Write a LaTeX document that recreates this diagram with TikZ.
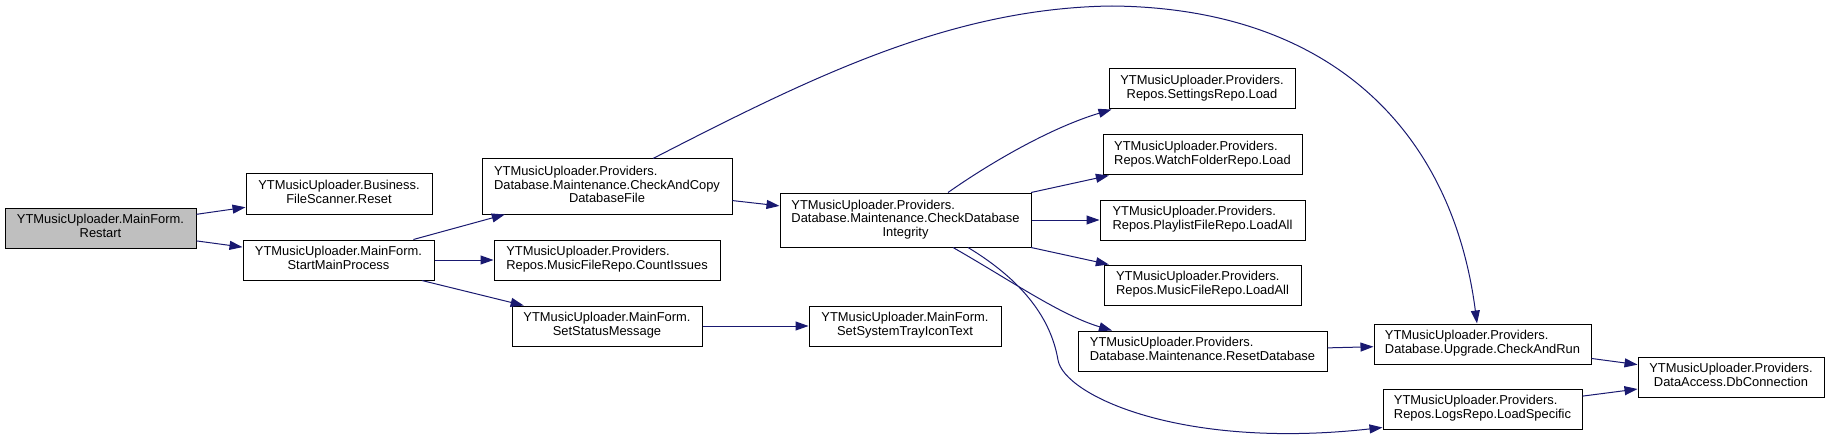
\documentclass[tikz,border=0pt]{standalone}
\usepackage{fontspec}
\setmainfont{Liberation Sans}
\usetikzlibrary{arrows.meta,calc}
\definecolor{edgec}{HTML}{191970}
\definecolor{rootfill}{HTML}{BFBFBF}
\newcommand\twol[2]{\begin{tabular}{@{}l@{}}#1\\\multicolumn{1}{@{}c@{}}{#2}\end{tabular}}
\newcommand\threel[3]{\begin{tabular}{@{}l@{}}#1\\#2\\\multicolumn{1}{@{}c@{}}{#3}\end{tabular}}
\begin{document}
\begin{tikzpicture}[x=1pt,y=-1pt,
  box/.style={draw=black, line width=1pt, fill=white, inner sep=0pt, minimum height=40pt,
    font=\fontsize{12.9}{13.4}\selectfont, text=black},
  edge/.style={draw=edgec, line width=1pt, -{Triangle[length=13pt,width=9pt]}}]
\useasboundingbox (0,0) rectangle (1829,441);
\fill[white] (0,0) rectangle (1829,441);

\node[box, fill=rootfill, minimum width=191pt] (restart) at (100.5,228) {\twol{YTMusicUploader.MainForm.}{Restart}};
\node[box, minimum width=186pt] (reset) at (339,194) {\twol{YTMusicUploader.Business.}{FileScanner.Reset}};
\node[box, minimum width=191pt] (smp) at (338.5,260) {\twol{YTMusicUploader.MainForm.}{StartMainProcess}};
\node[box, minimum width=250pt, minimum height=55pt] (cacdf) at (607,186.5) {\threel{YTMusicUploader.Providers.}{Database.Maintenance.CheckAndCopy}{DatabaseFile}};
\node[box, minimum width=226pt] (countissues) at (607,260) {\twol{YTMusicUploader.Providers.}{Repos.MusicFileRepo.CountIssues}};
\node[box, minimum width=190pt] (ssm) at (607,326) {\twol{YTMusicUploader.MainForm.}{SetStatusMessage}};
\node[box, minimum width=251pt, minimum height=54pt] (cdi) at (905.5,220) {\threel{YTMusicUploader.Providers.}{Database.Maintenance.CheckDatabase}{Integrity}};
\node[box, minimum width=192pt] (sstit) at (905,326) {\twol{YTMusicUploader.MainForm.}{SetSystemTrayIconText}};
\node[box, minimum width=186pt] (settings) at (1202,89) {\twol{YTMusicUploader.Providers.}{Repos.SettingsRepo.Load}};
\node[box, minimum width=199pt] (watch) at (1202.5,155) {\twol{YTMusicUploader.Providers.}{Repos.WatchFolderRepo.Load}};
\node[box, minimum width=205pt] (playlist) at (1202.5,220) {\twol{YTMusicUploader.Providers.}{Repos.PlaylistFileRepo.LoadAll}};
\node[box, minimum width=197pt] (music) at (1202.5,285) {\twol{YTMusicUploader.Providers.}{Repos.MusicFileRepo.LoadAll}};
\node[box, minimum width=249pt] (resetdb) at (1202.5,351) {\twol{YTMusicUploader.Providers.}{Database.Maintenance.ResetDatabase}};
\node[box, minimum width=217pt] (car) at (1482.5,344) {\twol{YTMusicUploader.Providers.}{Database.Upgrade.CheckAndRun}};
\node[box, minimum width=199pt] (logs) at (1482.5,409) {\twol{YTMusicUploader.Providers.}{Repos.LogsRepo.LoadSpecific}};
\node[box, minimum width=186pt] (dbconn) at (1731,377) {\twol{YTMusicUploader.Providers.}{DataAccess.DbConnection}};

\draw[edge] (restart) -- (reset);
\draw[edge] (restart) -- (smp);
\draw[edge] (smp) -- (cacdf);
\draw[edge] (smp) -- (countissues);
\draw[edge] (smp) -- (ssm);
\draw[edge] (cacdf) -- (cdi);
\draw[edge] ([xshift=46pt]cacdf.north) .. controls (810,78) and (950,8) .. (1112,6)
  .. controls (1330,8) and (1452,130) .. ([xshift=-5.5pt]car.north);
\draw[edge] (ssm) -- (sstit);
\draw[edge] ([xshift=42.5pt]cdi.north) .. controls (990,163) and (1050,128) .. ([xshift=3pt]settings.south west);
\draw[edge] (cdi) -- (watch);
\draw[edge] (cdi) -- (playlist);
\draw[edge] (cdi) -- (music);
\draw[edge] ([xshift=47.5pt]cdi.south) .. controls (1010,280) and (1060,315) .. ([xshift=-90.5pt]resetdb.north);
\draw[edge] ([xshift=62.5pt]cdi.south) .. controls (1030,285) and (1052,325) .. (1058,360)
  .. controls (1064,395) and (1180,450) .. ([yshift=2pt]logs.south west);
\draw[edge] (resetdb) -- (car);
\draw[edge] (car) -- (dbconn);
\draw[edge] (logs) -- (dbconn);
\end{tikzpicture}
\end{document}
